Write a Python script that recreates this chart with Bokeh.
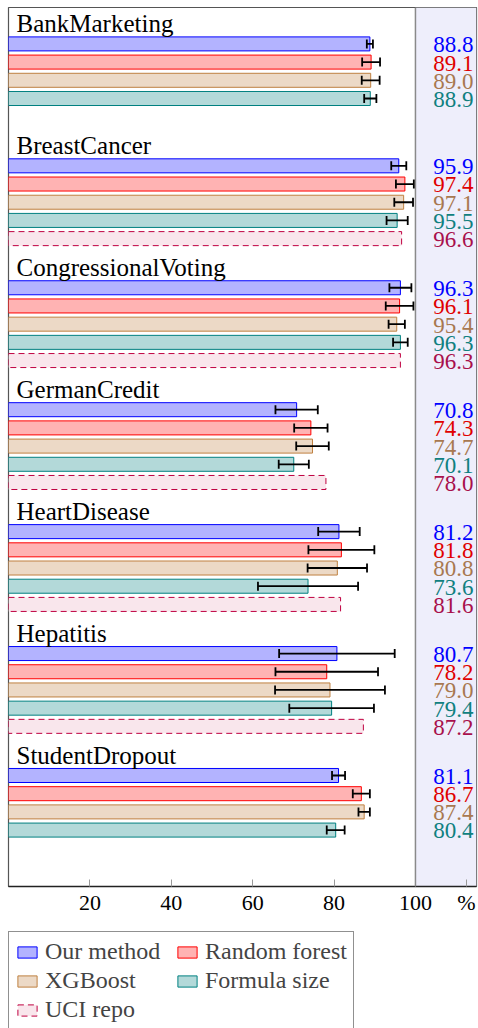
from bokeh.plotting import figure
from bokeh.layouts import column
from bokeh.models import (ColumnDataSource, Range1d, FixedTicker, Legend, LegendItem,
                          Whisker, TeeHead, BoxAnnotation, Span)
from bokeh.core.properties import value
from bokeh.embed import file_html
from bokeh.resources import INLINE

# ---------------- data ----------------
datasets = ["BankMarketing", "BreastCancer", "CongressionalVoting", "GermanCredit",
            "HeartDisease", "Hepatitis", "StudentDropout"]
methods = ["Our method", "Random forest", "XGBoost", "Formula size", "UCI repo"]

ours = [88.8, 95.9, 96.3, 70.8, 81.2, 80.7, 81.1]
ours_err = [0.75, 1.85, 2.7, 5.2, 5.1, 14.2, 1.6]
rf = [89.1, 97.4, 96.1, 74.3, 81.8, 78.2, 86.7]
rf_err = [2.2, 2.2, 3.4, 4.1, 8.1, 12.6, 2.1]
xgb = [89.0, 97.1, 95.4, 74.7, 80.8, 79.0, 87.4]
xgb_err = [2.2, 2.3, 2.0, 4.0, 7.3, 13.5, 1.4]
fsize = [88.9, 95.5, 96.3, 70.1, 73.6, 79.4, 80.4]
fsize_err = [1.5, 2.6, 1.8, 3.7, 12.3, 10.4, 2.2]
uci = [None, 96.6, 96.3, 78.0, 81.6, 87.2, None]

x_ticks = [20, 40, 60, 80, 100]
unit_tick = 112.5
unit_label = "%"

# ---------------- style ----------------
FONT = "Liberation Serif"
fills = ["#B3B3FF", "#FFB3B3", "#ECD9C6", "#B3D9D9", "#F9E6EC"]
lines = ["#0000FF", "#FF0000", "#BF8040", "#008080", "#BF0040"]
text_cols = ["#0000FF", "#E00000", "#A87850", "#108080", "#A8104C"]
dashes = ["solid", "solid", "solid", "solid", "6 4"]

GROUP_PITCH = 6.7     # rows per dataset group
FIRST_ROW = 2.0
BAR_H = 0.77
X_MAX = 115
Y_MAX = 48.3

p = figure(width=478, height=931, x_range=Range1d(0, X_MAX), y_range=Range1d(Y_MAX, 0),
           output_backend="svg", toolbar_location=None, y_axis_location=None,
           min_border_left=8, min_border_right=2, min_border_top=7, min_border_bottom=45)
p.xgrid.visible = False
p.ygrid.visible = False
p.outline_line_color = "#555555"
p.outline_line_width = 1.2
p.background_fill_color = "white"
p.border_fill_color = "white"

# shaded value column
p.add_layout(BoxAnnotation(left=100, right=X_MAX, fill_color="#EEEEFB", fill_alpha=1,
                           line_alpha=0, level="underlay"))
p.add_layout(Span(location=100, dimension="height", line_color="#8A8A8A", line_width=1.5))

series = [ours, rf, xgb, fsize, uci]
errs = [ours_err, rf_err, xgb_err, fsize_err, None]

for m, (vals, err) in enumerate(zip(series, errs)):
    ys, xs, lo, hi, txt = [], [], [], [], []
    for g, v in enumerate(vals):
        if v is None:
            continue
        ys.append(FIRST_ROW + GROUP_PITCH * g + m)
        xs.append(v)
        txt.append(f"{v:.1f}")
        if err is not None:
            lo.append(v - err[g])
            hi.append(v + err[g])
    data = dict(y=ys, x=xs, txt=txt, ty=[y + 0.05 for y in ys], tx=[X_MAX] * len(ys))
    if err is not None:
        data["lo"] = lo
        data["hi"] = hi
    src = ColumnDataSource(data)
    p.hbar(y="y", left=0, right="x", height=BAR_H, source=src,
           fill_color=fills[m], line_color=lines[m], line_width=1, line_dash=dashes[m])
    if err is not None:
        p.add_layout(Whisker(source=src, base="y", lower="lo", upper="hi", dimension="width",
                             line_color="black", line_width=1.8, level="overlay",
                             upper_head=TeeHead(size=9, line_width=1.8, line_color="black"),
                             lower_head=TeeHead(size=9, line_width=1.8, line_color="black")))
    p.text(x="tx", y="ty", text="txt", source=src, text_align="right", x_offset=-3,
           text_baseline="alphabetic", text_color=text_cols[m],
           text_font=value(FONT), text_font_size="23px")

# dataset titles
title_src = ColumnDataSource(dict(x=[0] * len(datasets),
                                  y=[FIRST_ROW + GROUP_PITCH * g - 1.12 for g in range(len(datasets))],
                                  t=datasets))
p.text(x="x", y="y", text="t", source=title_src, x_offset=8, text_baseline="alphabetic",
       text_color="black", text_font=value(FONT), text_font_size="25px")

# x axis
ax = p.xaxis[0]
ax.ticker = FixedTicker(ticks=x_ticks + [unit_tick])
ax.major_label_overrides = {unit_tick: unit_label}
ax.major_tick_in = 7
ax.major_tick_out = 0
ax.minor_tick_line_color = None
ax.major_tick_line_color = "#999999"
ax.axis_line_color = "#222222"
ax.axis_line_width = 1.5
ax.major_label_text_font = FONT
ax.major_label_text_font_size = "22px"
ax.major_label_text_color = "black"
ax.major_label_standoff = 3

# ---------------- legend figure ----------------
lg = figure(width=478, height=97, x_range=Range1d(0, 1), y_range=Range1d(0, 1),
            output_backend="svg", toolbar_location=None, x_axis_location=None,
            y_axis_location=None, min_border_left=8, min_border_right=0,
            min_border_top=0, min_border_bottom=0)
lg.xgrid.visible = False
lg.ygrid.visible = False
lg.outline_line_color = None
lg.border_fill_color = "white"
leg_rs = []
for m in range(5):
    # a single off-range bar per series, only so that the legend has a glyph to draw
    leg_rs.append(lg.hbar(y=[-5], left=[0], right=[1], height=0.1, fill_color=fills[m],
                          line_color=lines[m], line_width=1, line_dash=dashes[m]))

legend = Legend(items=[LegendItem(label=methods[i], renderers=[leg_rs[i]]) for i in range(5)],
                location="top_left", orientation="horizontal", ncols=2)
legend.label_text_font = FONT
legend.label_text_font_size = "24px"
legend.label_width = 128
legend.glyph_width = 24
legend.glyph_height = 14
legend.label_standoff = 6
legend.padding = 6
legend.spacing = 2
legend.margin = 0
legend.border_line_color = "#222222"
legend.border_line_width = 1
legend.background_fill_alpha = 1
lg.add_layout(legend)

layout = column(p, lg, spacing=0)
open("out.html", "w").write(file_html(layout, INLINE))
